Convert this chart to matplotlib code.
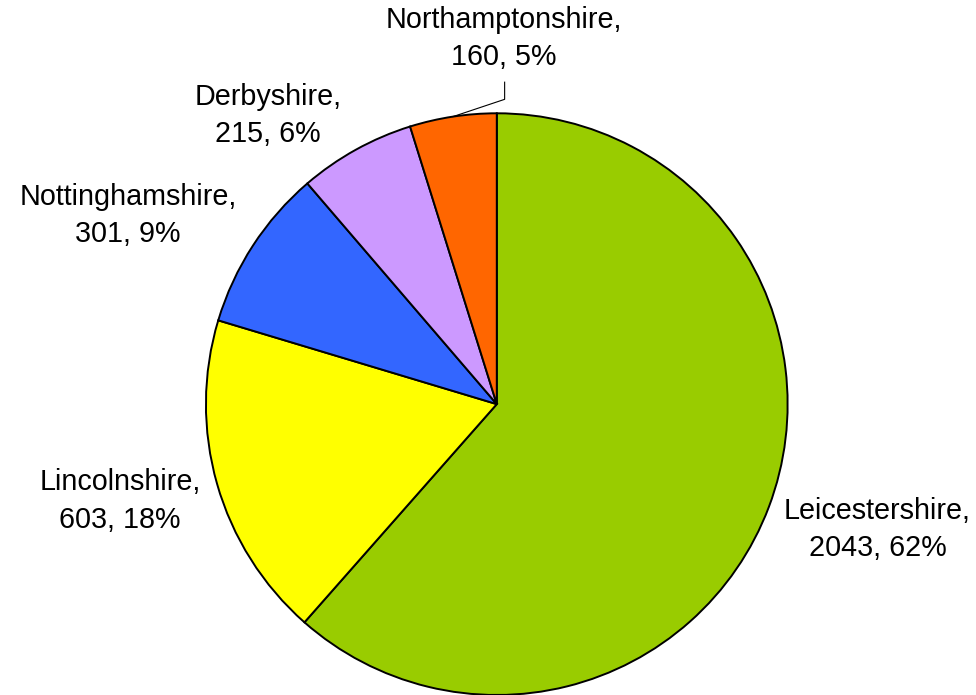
import numpy as np
import matplotlib.pyplot as plt

plt.rcParams['font.family'] = ['Liberation Sans', 'DejaVu Sans']

counties = ['Leicestershire', 'Lincolnshire', 'Nottinghamshire', 'Derbyshire', 'Northamptonshire']
counts = [2043, 603, 301, 215, 160]
percents = [62, 18, 9, 6, 5]  # as printed on the chart
colors = ['#99CC00', '#FFFF00', '#3366FF', '#CC99FF', '#FF6600']

# label centres in pie-radius units
label_pos = [(1.309, -0.43), (-1.296, -0.333), (-1.268, 0.649), (-0.787, 0.993), (0.024, 1.256)]

fig = plt.figure(figsize=(9.76, 6.95), dpi=100)
ax = fig.add_axes([0.211, 0.0, 0.596, 0.837])

wedges, _ = ax.pie(counts, colors=colors, startangle=90, counterclock=False,
                   wedgeprops=dict(edgecolor='black', linewidth=1.4))
ax.set_xlim(-1, 1)
ax.set_ylim(-1, 1)
ax.set_aspect('equal')
ax.axis('off')

for name, n, pct, (x, y) in zip(counties, counts, percents, label_pos):
    ax.text(x, y, f"{name},\n{n}, {pct}%", ha='center', va='center',
            fontsize=20.7, linespacing=1.42, clip_on=False)

# leader line for the small slice
w = wedges[-1]
mid = np.deg2rad((w.theta1 + w.theta2) / 2)
lx = label_pos[-1][0] + 0.003
ax.plot([np.cos(mid), lx, lx], [np.sin(mid), 1.048, 1.107], color='black',
        linewidth=0.8, clip_on=False)

fig.savefig('out.png', dpi=100)
